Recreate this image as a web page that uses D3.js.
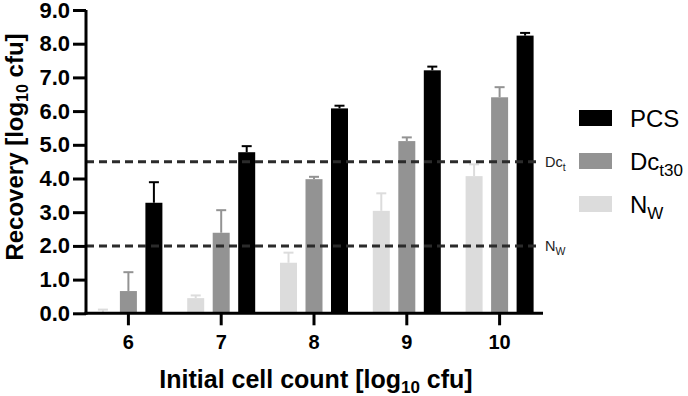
<!DOCTYPE html>
<html><head><meta charset="utf-8">
<script src="https://cdn.jsdelivr.net/npm/d3@7"></script>
<style>body{margin:0;background:#fff}svg{display:block}text{font-family:"Liberation Sans",Arial,sans-serif}</style>
</head><body><svg id="c" width="688" height="396"></svg>
<script>
const categories = ["6","7","8","9","10"];
const seriesNames = ["NW","Dct30","PCS"];
const nwMean = [0.02, 0.45, 1.50, 3.04, 4.07];
const nwErr  = [0.11, 0.53, 1.80, 3.56, 4.42];
const dcMean = [0.66, 2.39, 3.98, 5.11, 6.41];
const dcErr  = [1.22, 3.06, 4.05, 5.22, 6.71];
const pcsMean = [3.28, 4.78, 6.08, 7.21, 8.24];
const pcsErr  = [3.89, 4.96, 6.16, 7.32, 8.32];
const yTicks = [0,1,2,3,4,5,6,7,8,9];
const thresholds = [{v:4.5, name:"Dc", sub:"t"},{v:2.0, name:"N", sub:"W"}];
const colors = {NW:"#dcdcdc", Dct30:"#939393", PCS:"#000000"};

const svg = d3.select("#c");
const y = d3.scaleLinear().domain([0,9]).range([313.3,10]);
const x = d3.scaleBand().domain(categories).range([82,546]).paddingInner(0).paddingOuter(0);
const sub = d3.scalePoint().domain(seriesNames).range([-25.5,25.5]);
const bw = 17;

const series = [
  {key:"NW", mean:nwMean, err:nwErr},
  {key:"Dct30", mean:dcMean, err:dcErr},
  {key:"PCS", mean:pcsMean, err:pcsErr}
];

series.forEach(s=>{
  const g = svg.append("g");
  categories.forEach((c,i)=>{
    const cx = x(c)+x.bandwidth()/2+sub(s.key);
    g.append("line").attr("x1",cx).attr("x2",cx).attr("y1",y(s.mean[i])).attr("y2",y(s.err[i]))
      .attr("stroke",colors[s.key]).attr("stroke-width",2);
    g.append("line").attr("x1",cx-5).attr("x2",cx+5).attr("y1",y(s.err[i])).attr("y2",y(s.err[i]))
      .attr("stroke",colors[s.key]).attr("stroke-width",2);
    g.append("rect").attr("x",cx-bw/2).attr("width",bw).attr("y",y(s.mean[i])).attr("height",y(0)-y(s.mean[i]))
      .attr("fill",colors[s.key]);
  });
});

thresholds.forEach(t=>{
  svg.append("line").attr("x1",86).attr("x2",541).attr("y1",y(t.v)).attr("y2",y(t.v))
    .attr("stroke","#2b2b2b").attr("stroke-width",3).attr("stroke-dasharray","8,5");
  const tx = svg.append("text").attr("x",545).attr("y",y(t.v)+5).attr("font-size",14.5).attr("fill","#222");
  tx.append("tspan").text(t.name);
  tx.append("tspan").attr("dy",4).attr("font-size",10.5).text(t.sub);
});

const yAxis = d3.axisLeft(y).tickValues(yTicks).tickFormat(d3.format(".1f")).tickSize(13).tickSizeOuter(0);
const ga = svg.append("g").attr("transform","translate(86,0)").call(yAxis);
ga.select(".domain").attr("stroke","#000").attr("stroke-width",3).attr("d","M0,10V314.8");
ga.selectAll(".tick line").attr("stroke","#000").attr("stroke-width",3);
ga.selectAll(".tick text").attr("font-size",22).attr("font-weight","bold").attr("fill","#000").attr("x",-16).attr("font-family","Liberation Sans, Arial, sans-serif");

const xAxis = d3.axisBottom(x).tickSize(12).tickSizeOuter(0);
const gx = svg.append("g").attr("transform","translate(0,313.3)").call(xAxis);
gx.select(".domain").attr("stroke","#000").attr("stroke-width",3).attr("d","M84.5,0H543");
gx.selectAll(".tick line").attr("stroke","#000").attr("stroke-width",3);
gx.selectAll(".tick text").attr("font-size",20).attr("font-weight","bold").attr("fill","#000").attr("y",22).attr("font-family","Liberation Sans, Arial, sans-serif");

const yt = svg.append("text").attr("transform","translate(23,147) rotate(-90)").attr("text-anchor","middle")
  .attr("font-size",24).attr("font-weight","bold");
yt.append("tspan").text("Recovery [log");
yt.append("tspan").attr("dy",5).attr("font-size",16).text("10");
yt.append("tspan").attr("dy",-5).text(" cfu]");

const xt = svg.append("text").attr("x",316).attr("y",388).attr("text-anchor","middle")
  .attr("font-size",25).attr("font-weight","bold");
xt.append("tspan").text("Initial cell count [log");
xt.append("tspan").attr("dy",5).attr("font-size",17).text("10");
xt.append("tspan").attr("dy",-5).text(" cfu]");

const legend = [{key:"PCS", name:"PCS", sub:""},{key:"Dct30", name:"Dc", sub:"t30"},{key:"NW", name:"N", sub:"W"}];
legend.forEach((l,i)=>{
  const yy = 110 + i*43;
  svg.append("rect").attr("x",579).attr("y",yy).attr("width",33).attr("height",16).attr("fill",colors[l.key]);
  const t = svg.append("text").attr("x",630).attr("y",yy+17).attr("font-size",24).attr("fill","#000");
  t.append("tspan").text(l.name);
  if(l.sub) t.append("tspan").attr("dy",6).attr("font-size",17).text(l.sub);
});
</script></body></html>
